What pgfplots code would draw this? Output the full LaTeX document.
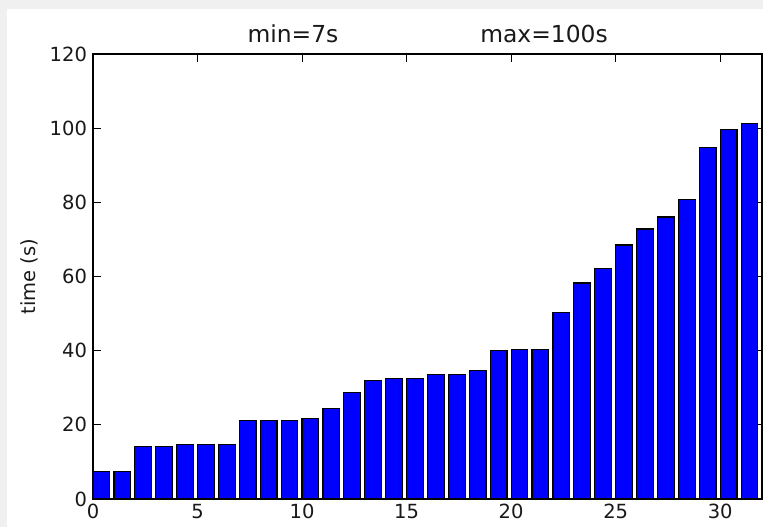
\documentclass[border=0pt]{standalone}
\usepackage{pgfplots}
\pgfplotsset{compat=1.18}
\usepackage{fontspec}
\setmainfont{DejaVu Sans}
\definecolor{bgray}{HTML}{F0F0F0}
\begin{document}
\begin{tikzpicture}[x=1pt,y=1pt]
\fill[bgray] (-93,-28) rectangle (670,499);
\fill[white] (-86,-28) rectangle (670,490);
\useasboundingbox (-93,-28) rectangle (670,499);
\begin{axis}[
  at={(0,0)}, anchor=south west,
  scale only axis, width=669pt, height=445pt,
  xmin=0, xmax=32, ymin=0, ymax=120,
  xtick={0,5,...,30}, ytick={0,20,...,120},
  tick align=inside, major tick length=8pt,
  axis line style={line width=1.4pt},
  every tick/.style={black, line width=1pt},
  /pgf/number format/assume math mode=true,
  tick label style={font=\fontsize{19.5}{23}\selectfont, text=black!90},
  yticklabel style={xshift=-2.5pt},
  xticklabel style={yshift=-1.5pt},
  ylabel={time (s)},
  every axis y label/.style={at={(axis description cs:-0.0957,0.5)}, rotate=90, anchor=center, font=\fontsize{19.5}{23}\selectfont, text=black!90},
]
\addplot[ybar, bar width=0.8, bar shift=0pt, fill=blue, draw=black, line width=1.2pt] coordinates {
(0.4,7.5) (1.4,7.5) (2.4,14.1) (3.4,14.1) (4.4,14.75) (5.4,14.75) (6.4,14.75)
(7.4,21.1) (8.4,21.1) (9.4,21.1) (10.4,21.65) (11.4,24.35) (12.4,28.7)
(13.4,31.9) (14.4,32.45) (15.4,32.45) (16.4,33.5) (17.4,33.5) (18.4,34.6)
(19.4,40.0) (20.4,40.4) (21.4,40.4) (22.4,50.2) (23.4,58.25) (24.4,62.1)
(25.4,68.5) (26.4,72.8) (27.4,76.05) (28.4,80.8) (29.4,94.85) (30.4,99.7) (31.4,101.3)
};
\end{axis}
\node[anchor=base, font=\fontsize{23.4}{28}\selectfont, text=black!90] at (200,456) {min=7s};
\node[anchor=base, font=\fontsize{23.4}{28}\selectfont, text=black!90] at (451,456) {max=100s};
\end{tikzpicture}
\end{document}
